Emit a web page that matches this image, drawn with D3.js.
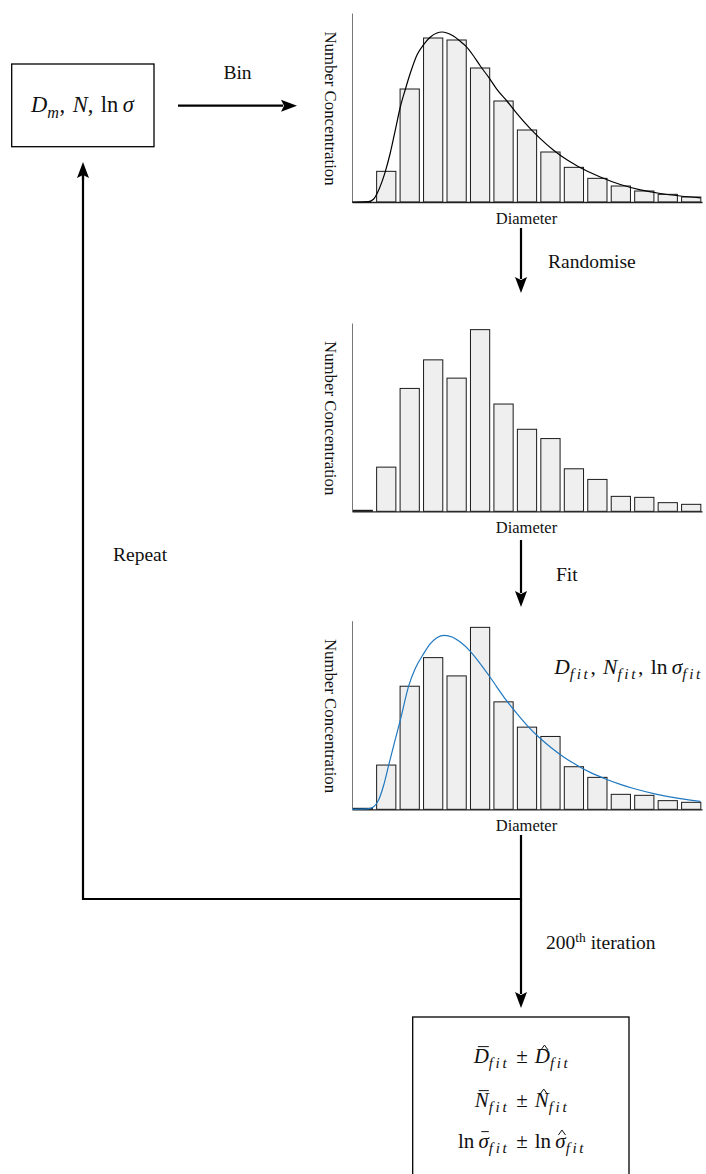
<!DOCTYPE html>
<html>
<head>
<meta charset="utf-8">
<script src="https://cdn.jsdelivr.net/npm/d3@7"></script>
<style>
  body { margin: 0; background: #fff; }
  svg { display: block; }
  text { font-family: "Liberation Serif", "Times New Roman", serif; fill: #111; }
</style>
</head>
<body>
<svg id="fig" width="706" height="1174"></svg>
<script>
// ---- data -------------------------------------------------------------
const binIndex = d3.range(15);

// counts per diameter bin from the initial lognormal parameters
const binnedCounts = [0, 18.4, 67.8, 98.4, 97.2, 80.4, 60.6, 43.2, 30, 20.8, 14.2, 9.6, 6.6, 4.6, 3];

// counts after randomising each bin
const randomisedCounts = [0.6, 26.6, 74, 91.2, 80.2, 109.4, 64.6, 49.4, 43.8, 25.6, 19.2, 9, 8.4, 5.2, 4.2];

// underlying distribution (x in bin units, y in count units)
const trueDistX = [0, 0.71, 0.93, 1.07, 1.29, 1.43, 1.64, 1.86, 2.07, 2.29, 2.5, 2.79, 3.07, 3.36, 3.64, 3.86,
  4.07, 4.36, 4.64, 4.89, 5.21, 5.5, 5.89, 6.21, 6.64, 7.07, 7.64, 8.07, 8.64, 9.21, 9.71, 10.64, 11.5, 12.36,
  13.21, 14.07, 14.93];
const trueDistY = [0, 0.2, 1.8, 5, 12.4, 18.4, 29.4, 43.4, 57, 67.8, 77.4, 88.4, 94.4, 99, 101.4, 102,
  101.4, 99.4, 96.4, 93.4, 87.6, 81.6, 74.2, 67.6, 60.6, 53, 44, 38, 31, 25.3, 21.2, 15, 10.5, 7.3,
  5.1, 3.6, 2.5];

// fitted distribution
const fitDistX = [0, 0.64, 0.93, 1.14, 1.36, 1.57, 1.81, 2.07, 2.43, 2.71, 3.07, 3.36, 3.64, 3.96, 4.29,
  4.64, 5.07, 5.5, 5.89, 6.21, 6.64, 7.07, 7.5, 8.0, 8.5, 9.07, 9.64, 10.21, 10.79, 11.5, 12.07, 13.07,
  14.07, 14.93];
const fitDistY = [0, 0.2, 1.6, 5.6, 14.6, 26.4, 39.6, 53.6, 74.2, 84.6, 93.6, 99.6, 103.2, 104.6, 103.6,
  100.6, 95, 87.5, 80, 73.5, 65, 57.5, 50.5, 43.5, 37.5, 31.5, 26.5, 22.2, 18.7, 15, 12.5, 9,
  6.4, 4.8];

const countDomain = [0, 113.4];

// ---- drawing ----------------------------------------------------------
const svg = d3.select("#fig");

const xBand = d3.scaleBand().domain(binIndex).range([352, 702]).paddingInner(0.18).paddingOuter(0.05);
const xCont = d3.scaleLinear().domain([0, 15]).range([352, 702]);

function histogramPanel(top, base, counts, curveX, curveY, curveColor) {
  const y = d3.scaleLinear().domain(countDomain).range([base, top]);
  const g = svg.append("g");

  g.selectAll("rect").data(counts).join("rect")
    .attr("x", (d, i) => xBand(i))
    .attr("width", xBand.bandwidth())
    .attr("y", d => y(d))
    .attr("height", d => y(0) - y(d))
    .attr("fill", "#efefef")
    .attr("stroke", "#1a1a1a")
    .attr("stroke-width", 1);

  // axes: plain lines, no ticks
  const yAxis = g.append("g").attr("transform", "translate(352,0)")
    .call(d3.axisLeft(y).tickValues([]).tickSizeOuter(0));
  yAxis.select(".domain").attr("stroke", "#777").attr("stroke-width", 1);

  const xAxis = g.append("g").attr("transform", `translate(0,${base})`)
    .call(d3.axisBottom(xCont).tickValues([]).tickSizeOuter(0));
  xAxis.select(".domain").attr("stroke", "#222").attr("stroke-width", 1.3);

  if (curveX) {
    const pts = curveX.map((v, i) => [v, curveY[i]]);
    g.append("path").datum(pts)
      .attr("d", d3.line().x(d => xCont(d[0])).y(d => y(d[1])).curve(d3.curveMonotoneX))
      .attr("fill", "none")
      .attr("stroke", curveColor)
      .attr("stroke-width", 1.2);
  }

  g.append("text")
    .attr("transform", `translate(324.5,${(top + base) / 2 + 1}) rotate(90)`)
    .attr("text-anchor", "middle")
    .attr("font-size", 16.8)
    .text("Number Concentration");

  g.append("text")
    .attr("x", 526.5).attr("y", base + 21.5)
    .attr("text-anchor", "middle")
    .attr("font-size", 16.5)
    .text("Diameter");
}

histogramPanel(13, 202, binnedCounts, trueDistX, trueDistY, "#000");
histogramPanel(323, 511.3, randomisedCounts, null, null, null);
histogramPanel(620.7, 809.3, randomisedCounts, fitDistX, fitDistY, "#1f78c1");

// math-style text built from tspans: "i" italic, "s" italic subscript, "r" roman.
// an optional third entry puts an accent ("bar" or "hat") over the first glyph.
function mathText(x, y, parts, size, anchor, subSpacing) {
  const t = svg.append("text")
    .attr("x", x).attr("y", y)
    .attr("font-size", size)
    .attr("text-anchor", anchor || "middle");
  let shift = 0, idx = 0;
  const accents = [];
  parts.forEach(([str, kind, accent]) => {
    const s = t.append("tspan").text(str);
    const target = kind === "s" ? size * 0.25 : 0;
    if (target !== shift) { s.attr("dy", target - shift); shift = target; }
    if (kind === "i" || kind === "s") s.attr("font-style", "italic");
    if (kind === "s") s.attr("font-size", size * 0.72).attr("letter-spacing", subSpacing == null ? 2.6 : subSpacing);
    if (accent) accents.push([idx, accent]);
    idx += str.length;
  });
  const node = t.node();
  accents.forEach(([k, type]) => {
    const box = node.getExtentOfChar(k);
    const x0 = box.x + box.width * 0.28, x1 = box.x + box.width * 1.0;
    const top = y - size * (type === "bar" ? 0.78 : 0.76);
    if (type === "bar") {
      svg.append("line").attr("x1", x0).attr("x2", x1).attr("y1", top).attr("y2", top)
        .attr("stroke", "#111").attr("stroke-width", 1);
    } else {
      const cx = (x0 + x1) / 2, hw = size * 0.17;
      svg.append("path").attr("d", `M${cx - hw},${top + 3}L${cx},${top - 2}L${cx + hw},${top + 3}`)
        .attr("fill", "none").attr("stroke", "#111").attr("stroke-width", 1);
    }
  });
  return t;
}

// arrows
function arrow(x1, y1, x2, y2, head) {
  const ang = Math.atan2(y2 - y1, x2 - x1);
  const L = 16, W = 6;
  svg.append("line")
    .attr("x1", x1).attr("y1", y1)
    .attr("x2", head ? x2 - Math.cos(ang) * (L - 2) : x2)
    .attr("y2", head ? y2 - Math.sin(ang) * (L - 2) : y2)
    .attr("stroke", "#000").attr("stroke-width", 2.2);
  if (head) {
    const bx = x2 - Math.cos(ang) * L, by = y2 - Math.sin(ang) * L;
    const px = -Math.sin(ang) * W, py = Math.cos(ang) * W;
    svg.append("path")
      .attr("d", `M${x2},${y2}L${bx + px},${by + py}L${bx + Math.cos(ang) * 3},${by + Math.sin(ang) * 3}L${bx - px},${by - py}Z`)
      .attr("fill", "#000");
  }
}

const SP = "\u2004"; // three-per-em space used between math terms

// input parameter box
svg.append("rect").attr("x", 11.7).attr("y", 64).attr("width", 142.3).attr("height", 82.7)
  .attr("fill", "none").attr("stroke", "#000").attr("stroke-width", 1.3);
mathText(82.5, 112, [["D", "i"], ["m", "s"], ["," + SP, "r"], ["N", "i"], ["," + SP + "ln\u2009", "r"], ["σ", "i"]], 22.5, "middle", 0.5);

// Bin
arrow(178, 105.7, 297, 105.7, true);
svg.append("text").attr("x", 237.5).attr("y", 79).attr("text-anchor", "middle")
  .attr("font-size", 19.5).text("Bin");

// Randomise
arrow(521, 228, 521, 293, true);
svg.append("text").attr("x", 548).attr("y", 268).attr("font-size", 19.5).text("Randomise");

// Fit
arrow(521, 540, 521, 607, true);
svg.append("text").attr("x", 556).attr("y", 581).attr("font-size", 19.5).text("Fit");

// fitted parameters label
mathText(703, 674, [["D", "i"], ["fit", "s"], ["," + SP, "r"], ["N", "i"], ["fit", "s"], ["," + SP + "ln\u2009", "r"], ["σ", "i"], ["fit", "s"]], 21.5, "end");

// feedback loop
svg.append("path")
  .attr("d", "M521,835V899H83V175")
  .attr("fill", "none").attr("stroke", "#000").attr("stroke-width", 2.2);
arrow(83, 180, 83, 162, true);
svg.append("text").attr("x", 113).attr("y", 561).attr("font-size", 19.5).text("Repeat");

// final iteration
arrow(521, 899, 521, 1008, true);
const it = svg.append("text").attr("x", 546).attr("y", 949).attr("font-size", 19.5);
it.append("tspan").text("200");
it.append("tspan").attr("dy", -7).attr("font-size", 13.5).text("th");
it.append("tspan").attr("dy", 7).text(" iteration");

// summary box (runs past the bottom edge)
svg.append("rect").attr("x", 412.7).attr("y", 1017).attr("width", 216.3).attr("height", 200)
  .attr("fill", "none").attr("stroke", "#000").attr("stroke-width", 1.3);
const PM = SP + "±" + SP;
mathText(522, 1063, [["D", "i", "bar"], ["fit", "s"], [PM, "r"], ["D", "i", "hat"], ["fit", "s"]], 21);
mathText(522, 1107, [["N", "i", "bar"], ["fit", "s"], [PM, "r"], ["N", "i", "hat"], ["fit", "s"]], 21);
mathText(522, 1148, [["ln\u2009", "r"], ["σ", "i", "bar"], ["fit", "s"], [PM + "ln\u2009", "r"], ["σ", "i", "hat"], ["fit", "s"]], 21);
</script>
</body>
</html>
